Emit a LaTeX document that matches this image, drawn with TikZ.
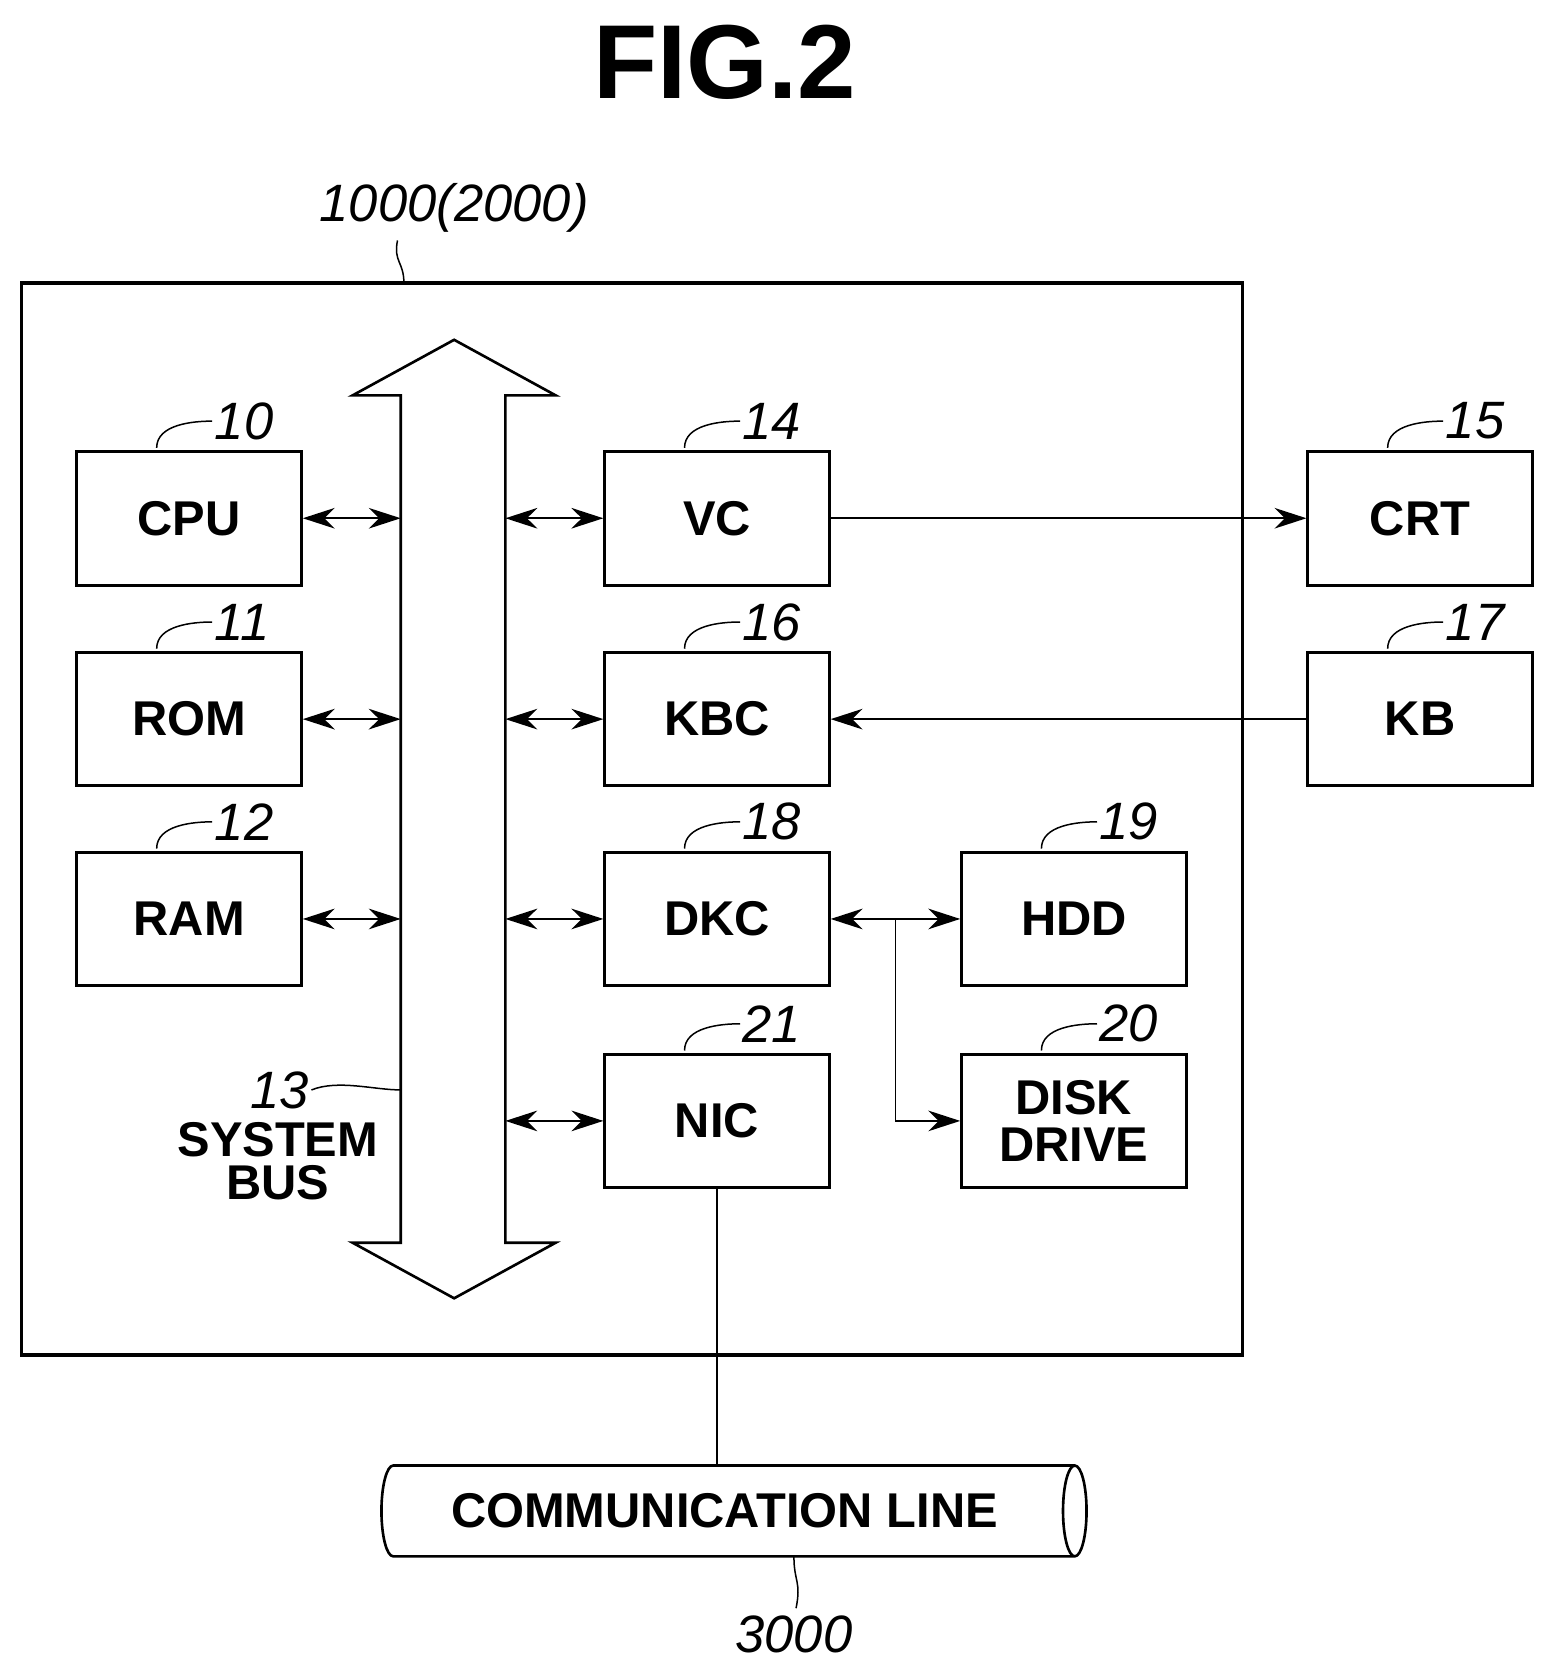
\documentclass[tikz,border=0pt]{standalone}
\usepackage{fontspec}
\setmainfont{Liberation Sans}
\usetikzlibrary{arrows.meta,calc,shapes.geometric}
\tikzstyle{blk}   = [draw, line width=1.6pt, minimum width=4.2cm, minimum height=2.5cm, font=\fontsize{26}{26}\selectfont\bfseries, align=center, inner sep=0pt]
\tikzstyle{biarrow} = [line width=1pt, {Stealth[length=17pt,width=11pt]}-{Stealth[length=17pt,width=11pt]}]
\tikzstyle{arrow} = [line width=1pt, -{Stealth[length=17pt,width=11pt]}]
\tikzstyle{refnum} = [font=\fontsize{28}{28}\selectfont\itshape, inner sep=1pt]
\newcommand{\refmark}[2]{%
  \draw [line width=0.8pt] ($(#1.north west)+(76,-2)$) .. controls +(0,-22) and +(-18,0) .. +(52,-25) node [refnum, right] {#2};}
\begin{document}
\begin{tikzpicture}[x=0.02cm, y=-0.02cm]
    \useasboundingbox (0,0) rectangle (1450,1561);
    % Title
    \node (title) at (678,58) {\fontsize{56}{56}\selectfont\bfseries FIG.2};
    % Outer box
    \draw [line width=1.8pt] (20,265) rectangle (1163,1268);
    \node (outer) [refnum] at (425,195) {1000(2000)};
    \draw [line width=0.8pt] (378,265) .. controls (378,245) and (368,245) .. (372,225);
    % System bus
    \draw [line width=1.4pt] (375,1163) -- (375,370) -- (330,370) -- (425,318) -- (520,370) -- (473,370)
        -- (473,1163) -- (520,1163) -- (425,1215) -- (330,1163) -- cycle;
    \coordinate (busl) at (375,0);
    \coordinate (busr) at (473,0);
    % Blocks
    \node (cpu) [blk] at (177,485) {CPU};
    \node (rom) [blk] at (177,673) {ROM};
    \node (ram) [blk] at (177,860) {RAM};
    \node (vc)  [blk] at (671,485) {VC};
    \node (kbc) [blk] at (671,673) {KBC};
    \node (dkc) [blk] at (671,860) {DKC};
    \node (nic) [blk] at (671,1049) {NIC};
    \node (crt) [blk] at (1329,485) {CRT};
    \node (kb)  [blk] at (1329,673) {KB};
    \node (hdd) [blk] at (1005,860) {HDD};
    \node (disk) [blk, font=\fontsize{26}{25}\selectfont\bfseries] at (1005,1049) {DISK\\DRIVE};
    % Reference numbers
    \refmark{cpu}{10}
    \refmark{rom}{11}
    \refmark{ram}{12}
    \refmark{vc}{14}
    \refmark{crt}{15}
    \refmark{kbc}{16}
    \refmark{kb}{17}
    \refmark{dkc}{18}
    \refmark{hdd}{19}
    \refmark{disk}{20}
    \refmark{nic}{21}
    % Bus label
    \node (bus) [refnum] at (262,1020) {13};
    \draw [line width=0.8pt] (bus.east) .. controls +(25,-10) and +(-25,0) .. (375,1020);
    \node (buslbl) [font=\fontsize{26}{23}\selectfont\bfseries, align=center] at (260,1087) {SYSTEM\\BUS};
    %% Arrows
    \draw [biarrow] (cpu.east) -- (busl |- cpu.east);
    \draw [biarrow] (rom.east) -- (busl |- rom.east);
    \draw [biarrow] (ram.east) -- (busl |- ram.east);
    \draw [biarrow] (busr |- vc.west) -- (vc.west);
    \draw [biarrow] (busr |- kbc.west) -- (kbc.west);
    \draw [biarrow] (busr |- dkc.west) -- (dkc.west);
    \draw [biarrow] (busr |- nic.west) -- (nic.west);
    \draw [arrow] (vc.east) -- (crt.west);
    \draw [arrow] (kb.west) -- (kbc.east);
    \draw [biarrow] (dkc.east) -- (hdd.west);
    \coordinate (split) at (838,860);
    \draw [arrow] (split) |- (disk.west);
    % Communication line
    \node (line) [cylinder, draw, line width=1.4pt, shape border rotate=0, minimum width=1.7cm, minimum height=13.2cm,
        aspect=0.5, font=\fontsize{26}{26}\selectfont\bfseries] at (678,1414) {COMMUNICATION LINE};
    \draw [line width=1.2pt] (nic.south) -- (nic.south |- line.north);
    \node (comm) [refnum] at (743,1530) {3000};
    \draw [line width=0.8pt] (743,1457) .. controls (743,1480) and (750,1480) .. (745,1505);
\end{tikzpicture}
\end{document}
